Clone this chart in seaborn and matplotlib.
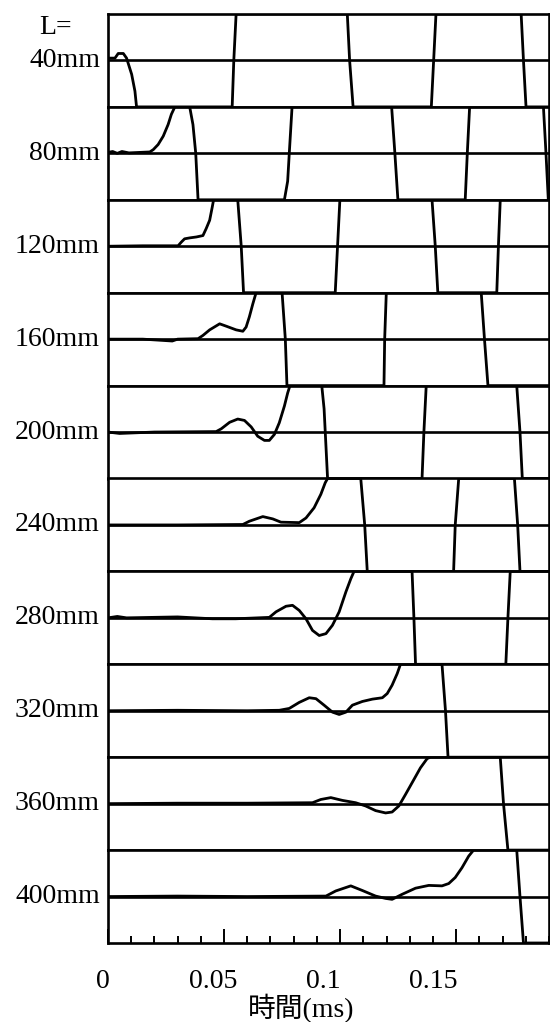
import matplotlib
matplotlib.use("Agg")
import matplotlib.pyplot as plt
from matplotlib.ticker import MultipleLocator, NullFormatter
import seaborn as sns

# ---- data (time in ms, normalised clipped signal in [-1, 1]) ----
LENGTHS = [40, 80, 120, 160, 200, 240, 280, 320, 360, 400]

T40 = [0, 0.003, 0.0044, 0.0066, 0.008, 0.0102, 0.0116, 0.0123, 0.0535, 0.0542, 0.0552,
       0.1031, 0.1041, 0.1056, 0.1393, 0.1403, 0.1413, 0.178, 0.179, 0.1801, 0.19]
Y40 = [0.05, 0.05, 0.15, 0.15, 0.05, -0.3, -0.66, -1, -1, 0, 1,
       1, 0, -1, -1, 0, 1, 1, 0, -1, -1]

T80 = [0, 0.002, 0.004, 0.006, 0.009, 0.018, 0.0195, 0.0216, 0.0238, 0.0259, 0.0273, 0.0288,
       0.0352, 0.0366, 0.0378, 0.0388, 0.076, 0.0774, 0.0781, 0.0793, 0.1222, 0.1236, 0.1249,
       0.1539, 0.1548, 0.1558, 0.1876, 0.1887, 0.1897]
Y80 = [0.02, 0.04, 0.0, 0.04, 0.01, 0.03, 0.08, 0.19, 0.37, 0.62, 0.84, 1,
       1, 0.62, 0, -1, -1, -0.6, 0, 1, 1, 0, -1,
       -1, 0, 1, 1, 0, -1]

T120 = [0, 0.015, 0.0302, 0.0316, 0.033, 0.0352, 0.0381, 0.0409, 0.0423, 0.0438, 0.0449, 0.0455,
        0.0559, 0.0574, 0.0584, 0.0979, 0.0989, 0.0999, 0.1396, 0.141, 0.1421,
        0.1675, 0.1682, 0.169, 0.19]
Y120 = [0, 0.01, 0.01, 0.09, 0.16, 0.18, 0.2, 0.23, 0.38, 0.56, 0.84, 1,
        1, 0, -1, -1, 0, 1, 1, 0, -1,
        -1, 0, 1, 1]

T160 = [0, 0.015, 0.0277, 0.03, 0.0388, 0.0409, 0.0438, 0.0481, 0.0509, 0.0552, 0.0581, 0.0595,
        0.0609, 0.0624, 0.0638, 0.075, 0.0764, 0.0771, 0.1189, 0.1192, 0.1199,
        0.1608, 0.1622, 0.1637, 0.19]
Y160 = [0, 0, -0.04, 0, 0.01, 0.08, 0.2, 0.33, 0.28, 0.2, 0.17, 0.26,
        0.48, 0.76, 1, 1, 0, -1, -1, 0, 1,
        1, 0, -1, -1]

T200 = [0, 0.005, 0.02, 0.0466, 0.0488, 0.0524, 0.0559, 0.0588, 0.0617, 0.0645, 0.0674, 0.0695,
        0.0717, 0.0738, 0.076, 0.0774, 0.0784, 0.0921, 0.0931, 0.0936, 0.0946,
        0.1353, 0.1361, 0.1371, 0.1761, 0.1775, 0.1785, 0.19]
Y200 = [0, -0.03, 0.0, 0.01, 0.07, 0.21, 0.28, 0.25, 0.11, -0.09, -0.18, -0.18,
        -0.05, 0.2, 0.56, 0.84, 1, 1, 0.5, 0, -1,
        -1, 0, 1, 1, 0, -1, -1]

T240 = [0, 0.03, 0.0581, 0.0609, 0.0667, 0.071, 0.0745, 0.0824, 0.0853, 0.0888, 0.0917, 0.0936,
        0.0946, 0.1089, 0.1106, 0.1117, 0.1489, 0.1496, 0.1511, 0.1751, 0.1765, 0.1775, 0.19]
Y240 = [0, 0, 0.01, 0.08, 0.18, 0.13, 0.06, 0.05, 0.15, 0.37, 0.66, 0.91,
        1, 1, 0, -1, -1, 0, 1, 1, 0, -1, -1]

T280 = [0, 0.004, 0.008, 0.03, 0.045, 0.055, 0.0695, 0.0724, 0.0767, 0.0795, 0.0824, 0.0853,
        0.0881, 0.091, 0.0939, 0.0967, 0.0996, 0.1025, 0.1046, 0.106, 0.131, 0.1318, 0.1325,
        0.1714, 0.1723, 0.1733, 0.19]
Y280 = [0, 0.03, 0.0, 0.02, -0.02, -0.02, 0.01, 0.13, 0.25, 0.27, 0.16, -0.02,
        -0.27, -0.38, -0.34, -0.16, 0.13, 0.56, 0.84, 1, 1, 0, -1,
        -1, 0, 1, 1]

T320 = [0, 0.03, 0.06, 0.0738, 0.0781, 0.0824, 0.0867, 0.0896, 0.0931, 0.0967, 0.0996, 0.1025,
        0.1053, 0.1096, 0.1139, 0.1182, 0.1203, 0.1224, 0.1246, 0.126, 0.1439, 0.1454, 0.1465, 0.19]
Y320 = [0, 0.01, 0.0, 0.01, 0.05, 0.18, 0.28, 0.26, 0.12, -0.03, -0.08, -0.03,
        0.12, 0.2, 0.25, 0.28, 0.37, 0.55, 0.8, 1, 1, 0, -1, -1]

T360 = [0, 0.03, 0.06, 0.0881, 0.0917, 0.096, 0.101, 0.1067, 0.111, 0.1153, 0.1196, 0.1224,
        0.1253, 0.1282, 0.1318, 0.1346, 0.1375, 0.1389, 0.169, 0.1704, 0.1723, 0.19]
Y360 = [0, 0.01, 0.01, 0.02, 0.09, 0.13, 0.07, 0.02, -0.05, -0.15, -0.2, -0.18,
        -0.05, 0.2, 0.52, 0.77, 0.97, 1, 1, 0, -1, -1]

T400 = [0, 0.03, 0.06, 0.0939, 0.0981, 0.1046, 0.1096, 0.1153, 0.1196, 0.1224, 0.1268, 0.1325,
        0.1382, 0.1439, 0.1468, 0.1496, 0.1525, 0.1554, 0.1575, 0.1761, 0.1775, 0.179, 0.19]
Y400 = [0, 0.01, 0.0, 0.01, 0.12, 0.23, 0.13, 0.01, -0.04, -0.06, 0.05, 0.18,
        0.24, 0.23, 0.28, 0.41, 0.62, 0.87, 1, 1, 0, -1, -1]

SERIES = [(T40, Y40), (T80, Y80), (T120, Y120), (T160, Y160), (T200, Y200),
          (T240, Y240), (T280, Y280), (T320, Y320), (T360, Y360), (T400, Y400)]

XTICK_VALUES = [0, 0.05, 0.1, 0.15]
XTICK_LABELS = ["0", "0.05", "0.1", "0.15"]
XLABEL = "時間(ms)"

# ---- style ----
sns.set_theme(style="white")
plt.rcParams["font.family"] = ["Liberation Serif", "Noto Sans CJK JP", "DejaVu Sans"]

W, H = 550, 1022
fig = plt.figure(figsize=(W / 100, H / 100), dpi=100)
ax_left, ax_right, ax_top, ax_bot = 108, 549, 14, 943
gs = fig.add_gridspec(len(SERIES), 1, left=ax_left / W, right=ax_right / W,
                      top=1 - ax_top / H, bottom=1 - ax_bot / H, hspace=0)

LW_TRACE = 2.0
LW_FRAME = 1.9
axes = []
for i, ((t, y), L) in enumerate(zip(SERIES, LENGTHS)):
    ax = fig.add_subplot(gs[i])
    axes.append(ax)
    ax.axhline(0, color="black", lw=LW_FRAME, zorder=1)
    sns.lineplot(x=t, y=y, ax=ax, color="black", linewidth=LW_TRACE, sort=False,
                 estimator=None, zorder=2)
    ax.set_xlim(0, 0.19)
    ax.set_ylim(-1, 1)
    ax.set_xlabel("")
    ax.set_ylabel("")
    ax.set_yticks([])
    for s in ax.spines.values():
        s.set_visible(True)
        s.set_color("black")
        s.set_linewidth(LW_FRAME)
    ax.text(-8 / (ax_right - ax_left), 0.5, f"{L}mm", transform=ax.transAxes,
            ha="right", va="center", fontsize=20, color="black")
    if i < len(SERIES) - 1:
        ax.set_xticks([])
    else:
        ax.xaxis.set_major_locator(MultipleLocator(0.05))
        ax.xaxis.set_minor_locator(MultipleLocator(0.01))
        ax.xaxis.set_major_formatter(NullFormatter())
        ax.tick_params(axis="x", which="major", direction="in", length=10, width=1.4,
                       bottom=True, color="black")
        ax.tick_params(axis="x", which="minor", direction="in", length=5, width=1.4,
                       bottom=True, color="black")

# "L=" header
fig.text(56 / W, 1 - 28 / H, "L=", ha="center", va="center", fontsize=20, color="black")

# tick-label row (labels placed as in the original print)
lab = fig.add_axes([103 / W, 1 - ax_bot / H, 440 / W, 0.0001])
lab.set_xlim(0, 0.2)
lab.set_xticks(XTICK_VALUES)
lab.set_xticklabels(XTICK_LABELS, fontsize=20, color="black")
lab.set_yticks([])
lab.tick_params(axis="x", length=0, pad=19)
lab.patch.set_visible(False)
for s in lab.spines.values():
    s.set_visible(False)

fig.text(301 / W, 1 - 1009 / H, XLABEL, ha="center", va="center", fontsize=20, color="black")

fig.savefig("out.png", dpi=100, facecolor="white")
